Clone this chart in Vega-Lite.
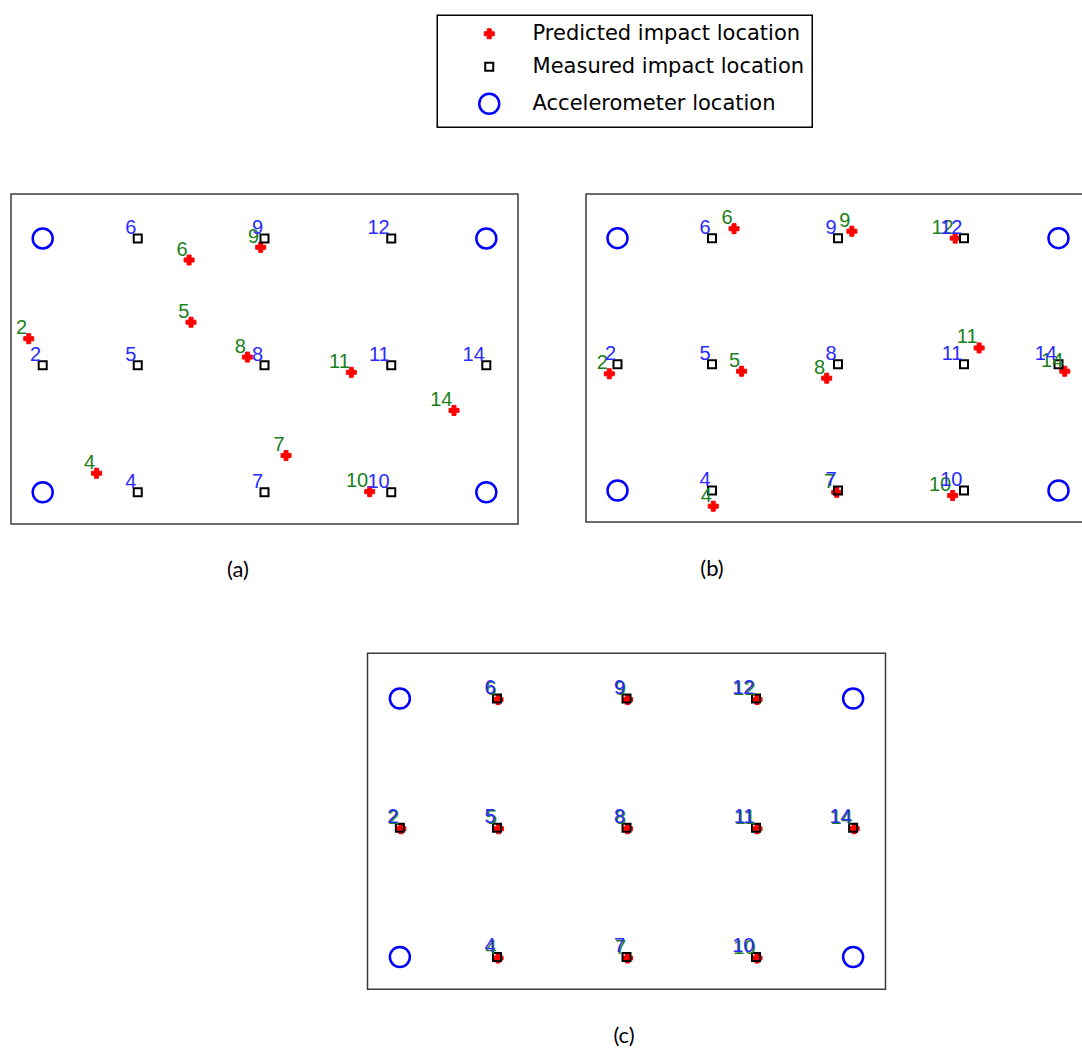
{
  "$schema": "https://vega.github.io/schema/vega-lite/v6.json",
  "padding": {"left": 10, "top": 14, "right": 0, "bottom": 0},
  "autosize": {"type": "pad"},
  "datasets": {
    "pts": [
      {"panel": "a", "type": "Accelerometer location", "id": "", "x": 2.5, "y": 2.5},
      {"panel": "a", "type": "Accelerometer location", "id": "", "x": 2.5, "y": 22.5},
      {"panel": "a", "type": "Accelerometer location", "id": "", "x": 37.5, "y": 2.5},
      {"panel": "a", "type": "Accelerometer location", "id": "", "x": 37.5, "y": 22.5},
      {"panel": "a", "type": "Predicted impact location", "id": "2", "x": 1.4, "y": 14.6},
      {"panel": "a", "type": "Predicted impact location", "id": "4", "x": 6.75, "y": 4.0},
      {"panel": "a", "type": "Predicted impact location", "id": "5", "x": 14.2, "y": 15.9},
      {"panel": "a", "type": "Predicted impact location", "id": "6", "x": 14.05, "y": 20.8},
      {"panel": "a", "type": "Predicted impact location", "id": "7", "x": 21.7, "y": 5.4},
      {"panel": "a", "type": "Predicted impact location", "id": "8", "x": 18.65, "y": 13.15},
      {"panel": "a", "type": "Predicted impact location", "id": "9", "x": 19.7, "y": 21.8},
      {"panel": "a", "type": "Predicted impact location", "id": "10", "x": 28.3, "y": 2.55},
      {"panel": "a", "type": "Predicted impact location", "id": "11", "x": 26.85, "y": 11.95},
      {"panel": "a", "type": "Predicted impact location", "id": "14", "x": 34.95, "y": 8.95},
      {"panel": "a", "type": "Measured impact location", "id": "2", "x": 2.5, "y": 12.5},
      {"panel": "a", "type": "Measured impact location", "id": "4", "x": 10, "y": 2.5},
      {"panel": "a", "type": "Measured impact location", "id": "5", "x": 10, "y": 12.5},
      {"panel": "a", "type": "Measured impact location", "id": "6", "x": 10, "y": 22.5},
      {"panel": "a", "type": "Measured impact location", "id": "7", "x": 20, "y": 2.5},
      {"panel": "a", "type": "Measured impact location", "id": "8", "x": 20, "y": 12.5},
      {"panel": "a", "type": "Measured impact location", "id": "9", "x": 20, "y": 22.5},
      {"panel": "a", "type": "Measured impact location", "id": "10", "x": 30, "y": 2.5},
      {"panel": "a", "type": "Measured impact location", "id": "11", "x": 30, "y": 12.5},
      {"panel": "a", "type": "Measured impact location", "id": "12", "x": 30, "y": 22.5},
      {"panel": "a", "type": "Measured impact location", "id": "14", "x": 37.5, "y": 12.5},

      {"panel": "b", "type": "Accelerometer location", "id": "", "x": 2.5, "y": 2.5},
      {"panel": "b", "type": "Accelerometer location", "id": "", "x": 2.5, "y": 22.5},
      {"panel": "b", "type": "Accelerometer location", "id": "", "x": 37.5, "y": 2.5},
      {"panel": "b", "type": "Accelerometer location", "id": "", "x": 37.5, "y": 22.5},
      {"panel": "b", "type": "Predicted impact location", "id": "2", "x": 1.85, "y": 11.75},
      {"panel": "b", "type": "Predicted impact location", "id": "4", "x": 10.1, "y": 1.25},
      {"panel": "b", "type": "Predicted impact location", "id": "5", "x": 12.35, "y": 11.95},
      {"panel": "b", "type": "Predicted impact location", "id": "6", "x": 11.75, "y": 23.25},
      {"panel": "b", "type": "Predicted impact location", "id": "7", "x": 19.9, "y": 2.35},
      {"panel": "b", "type": "Predicted impact location", "id": "8", "x": 19.1, "y": 11.4},
      {"panel": "b", "type": "Predicted impact location", "id": "9", "x": 21.1, "y": 23.05},
      {"panel": "b", "type": "Predicted impact location", "id": "10", "x": 29.1, "y": 2.1},
      {"panel": "b", "type": "Predicted impact location", "id": "11", "x": 31.2, "y": 13.8},
      {"panel": "b", "type": "Predicted impact location", "id": "12", "x": 29.3, "y": 22.5},
      {"panel": "b", "type": "Predicted impact location", "id": "14", "x": 38.0, "y": 11.95},
      {"panel": "b", "type": "Measured impact location", "id": "2", "x": 2.5, "y": 12.5},
      {"panel": "b", "type": "Measured impact location", "id": "4", "x": 10, "y": 2.5},
      {"panel": "b", "type": "Measured impact location", "id": "5", "x": 10, "y": 12.5},
      {"panel": "b", "type": "Measured impact location", "id": "6", "x": 10, "y": 22.5},
      {"panel": "b", "type": "Measured impact location", "id": "7", "x": 20, "y": 2.5},
      {"panel": "b", "type": "Measured impact location", "id": "8", "x": 20, "y": 12.5},
      {"panel": "b", "type": "Measured impact location", "id": "9", "x": 20, "y": 22.5},
      {"panel": "b", "type": "Measured impact location", "id": "10", "x": 30, "y": 2.5},
      {"panel": "b", "type": "Measured impact location", "id": "11", "x": 30, "y": 12.5},
      {"panel": "b", "type": "Measured impact location", "id": "12", "x": 30, "y": 22.5},
      {"panel": "b", "type": "Measured impact location", "id": "14", "x": 37.5, "y": 12.5},

      {"panel": "c", "type": "Accelerometer location", "id": "", "x": 2.5, "y": 2.5},
      {"panel": "c", "type": "Accelerometer location", "id": "", "x": 2.5, "y": 22.5},
      {"panel": "c", "type": "Accelerometer location", "id": "", "x": 37.5, "y": 2.5},
      {"panel": "c", "type": "Accelerometer location", "id": "", "x": 37.5, "y": 22.5},
      {"panel": "c", "type": "Predicted impact location", "id": "2", "x": 2.58, "y": 12.42},
      {"panel": "c", "type": "Predicted impact location", "id": "4", "x": 10.08, "y": 2.42},
      {"panel": "c", "type": "Predicted impact location", "id": "5", "x": 10.12, "y": 12.42},
      {"panel": "c", "type": "Predicted impact location", "id": "6", "x": 10.08, "y": 22.42},
      {"panel": "c", "type": "Predicted impact location", "id": "7", "x": 20.08, "y": 2.42},
      {"panel": "c", "type": "Predicted impact location", "id": "8", "x": 20.08, "y": 12.42},
      {"panel": "c", "type": "Predicted impact location", "id": "9", "x": 20.08, "y": 22.42},
      {"panel": "c", "type": "Predicted impact location", "id": "10", "x": 30.08, "y": 2.42},
      {"panel": "c", "type": "Predicted impact location", "id": "11", "x": 30.08, "y": 12.42},
      {"panel": "c", "type": "Predicted impact location", "id": "12", "x": 30.08, "y": 22.42},
      {"panel": "c", "type": "Predicted impact location", "id": "14", "x": 37.58, "y": 12.42},
      {"panel": "c", "type": "Measured impact location", "id": "2", "x": 2.5, "y": 12.5},
      {"panel": "c", "type": "Measured impact location", "id": "4", "x": 10, "y": 2.5},
      {"panel": "c", "type": "Measured impact location", "id": "5", "x": 10, "y": 12.5},
      {"panel": "c", "type": "Measured impact location", "id": "6", "x": 10, "y": 22.5},
      {"panel": "c", "type": "Measured impact location", "id": "7", "x": 20, "y": 2.5},
      {"panel": "c", "type": "Measured impact location", "id": "8", "x": 20, "y": 12.5},
      {"panel": "c", "type": "Measured impact location", "id": "9", "x": 20, "y": 22.5},
      {"panel": "c", "type": "Measured impact location", "id": "10", "x": 30, "y": 2.5},
      {"panel": "c", "type": "Measured impact location", "id": "11", "x": 30, "y": 12.5},
      {"panel": "c", "type": "Measured impact location", "id": "12", "x": 30, "y": 22.5},
      {"panel": "c", "type": "Measured impact location", "id": "14", "x": 37.5, "y": 12.5}
    ]
  },
  "spacing": 71.3,
  "bounds": "full",
  "vconcat": [
    {
      "spacing": 68,
      "bounds": "flush",
      "hconcat": [
        {
          "width": 507, "height": 330,
          "data": {"name": "pts"},
          "transform": [{"filter": "datum.panel === 'a'"}],
          "encoding": {
            "x": {"field": "x", "type": "quantitative", "scale": {"domain": [0, 40], "nice": false, "zero": false},
                  "axis": {"title": "(a)", "titleX": 226.5, "titleY": 45, "domain": false, "ticks": false, "labels": false, "grid": false}},
            "y": {"field": "y", "type": "quantitative", "scale": {"domain": [0, 26], "nice": false, "zero": false}, "axis": null}
          },
          "layer": [
            {
              "mark": {"type": "point", "filled": true, "opacity": 1},
              "encoding": {
                "shape": {"field": "type", "type": "nominal", "scale": {"domain": ["Predicted impact location", "Measured impact location", "Accelerometer location"], "range": ["cross", "square", "circle"]}},
                "fill": {"field": "type", "type": "nominal", "scale": {"domain": ["Predicted impact location", "Measured impact location", "Accelerometer location"], "range": ["#ff0000", "transparent", "transparent"]}},
                "stroke": {"field": "type", "type": "nominal", "scale": {"domain": ["Predicted impact location", "Measured impact location", "Accelerometer location"], "range": ["#ff0000", "#000000", "#0000ff"]}},
                "size": {"field": "type", "type": "nominal", "scale": {"type": "ordinal", "domain": ["Predicted impact location", "Measured impact location", "Accelerometer location"], "range": [100, 64, 400]}},
                "strokeWidth": {"field": "type", "type": "nominal", "scale": {"type": "ordinal", "domain": ["Predicted impact location", "Measured impact location", "Accelerometer location"], "range": [1, 2, 2.5]}}
              }
            },
            {
              "transform": [{"filter": "datum.type === 'Predicted impact location'"}],
              "mark": {"type": "text", "align": "right", "baseline": "alphabetic", "dx": -1.5, "dy": -4.5, "font": "Liberation Sans", "fontSize": 20, "color": "#1a801a"},
              "encoding": {"text": {"field": "id", "type": "nominal"}}
            },
            {
              "transform": [{"filter": "datum.type === 'Measured impact location'"}],
              "mark": {"type": "text", "align": "right", "baseline": "alphabetic", "dx": -1.5, "dy": -4.5, "font": "Liberation Sans", "fontSize": 20, "color": "#2a2aff"},
              "encoding": {"text": {"field": "id", "type": "nominal"}}
            }
          ]
        },
        {
          "width": 504, "height": 328,
          "data": {"name": "pts"},
          "transform": [{"filter": "datum.panel === 'b'"}],
          "encoding": {
            "x": {"field": "x", "type": "quantitative", "scale": {"domain": [0, 40], "nice": false, "zero": false},
                  "axis": {"title": "(b)", "titleX": 125.5, "titleY": 46, "domain": false, "ticks": false, "labels": false, "grid": false}},
            "y": {"field": "y", "type": "quantitative", "scale": {"domain": [0, 26], "nice": false, "zero": false}, "axis": null}
          },
          "layer": [
            {
              "mark": {"type": "point", "filled": true, "opacity": 1},
              "encoding": {
                "shape": {"field": "type", "type": "nominal", "scale": {"domain": ["Predicted impact location", "Measured impact location", "Accelerometer location"], "range": ["cross", "square", "circle"]}},
                "fill": {"field": "type", "type": "nominal", "scale": {"domain": ["Predicted impact location", "Measured impact location", "Accelerometer location"], "range": ["#ff0000", "transparent", "transparent"]}},
                "stroke": {"field": "type", "type": "nominal", "scale": {"domain": ["Predicted impact location", "Measured impact location", "Accelerometer location"], "range": ["#ff0000", "#000000", "#0000ff"]}},
                "size": {"field": "type", "type": "nominal", "scale": {"type": "ordinal", "domain": ["Predicted impact location", "Measured impact location", "Accelerometer location"], "range": [100, 64, 400]}},
                "strokeWidth": {"field": "type", "type": "nominal", "scale": {"type": "ordinal", "domain": ["Predicted impact location", "Measured impact location", "Accelerometer location"], "range": [1, 2, 2.5]}}
              }
            },
            {
              "transform": [{"filter": "datum.type === 'Predicted impact location'"}],
              "mark": {"type": "text", "align": "right", "baseline": "alphabetic", "dx": -1.5, "dy": -4.5, "font": "Liberation Sans", "fontSize": 20, "color": "#1a801a"},
              "encoding": {"text": {"field": "id", "type": "nominal"}}
            },
            {
              "transform": [{"filter": "datum.type === 'Measured impact location'"}],
              "mark": {"type": "text", "align": "right", "baseline": "alphabetic", "dx": -1.5, "dy": -4.5, "font": "Liberation Sans", "fontSize": 20, "color": "#2a2aff"},
              "encoding": {"text": {"field": "id", "type": "nominal"}}
            }
          ]
        }
      ]
    },
    {
      "spacing": 56.5,
      "bounds": "flush",
      "hconcat": [
        {
          "width": 300, "height": 336,
          "data": {"values": []},
          "mark": "point",
          "view": {"stroke": null}
        },
        {
          "width": 518, "height": 336,
          "data": {"name": "pts"},
          "transform": [{"filter": "datum.panel === 'c'"}],
          "encoding": {
            "x": {"field": "x", "type": "quantitative", "scale": {"domain": [0, 40], "nice": false, "zero": false},
                  "axis": {"title": "(c)", "titleX": 256, "titleY": 46, "domain": false, "ticks": false, "labels": false, "grid": false}},
            "y": {"field": "y", "type": "quantitative", "scale": {"domain": [0, 26], "nice": false, "zero": false}, "axis": null}
          },
          "layer": [
            {
              "mark": {"type": "point", "filled": true, "opacity": 1},
              "encoding": {
                "shape": {"field": "type", "type": "nominal", "scale": {"domain": ["Predicted impact location", "Measured impact location", "Accelerometer location"], "range": ["cross", "square", "circle"]}},
                "fill": {"field": "type", "type": "nominal", "scale": {"domain": ["Predicted impact location", "Measured impact location", "Accelerometer location"], "range": ["#ff0000", "transparent", "transparent"]}},
                "stroke": {"field": "type", "type": "nominal", "scale": {"domain": ["Predicted impact location", "Measured impact location", "Accelerometer location"], "range": ["#ff0000", "#000000", "#0000ff"]}},
                "size": {"field": "type", "type": "nominal", "scale": {"type": "ordinal", "domain": ["Predicted impact location", "Measured impact location", "Accelerometer location"], "range": [100, 64, 400]}},
                "strokeWidth": {"field": "type", "type": "nominal", "scale": {"type": "ordinal", "domain": ["Predicted impact location", "Measured impact location", "Accelerometer location"], "range": [1, 2, 2.5]}}
              }
            },
            {
              "transform": [{"filter": "datum.type === 'Predicted impact location'"}],
              "mark": {"type": "text", "align": "right", "baseline": "alphabetic", "dx": -1.5, "dy": -4.5, "font": "Liberation Sans", "fontSize": 20, "color": "#1a801a"},
              "encoding": {"text": {"field": "id", "type": "nominal"}}
            },
            {
              "transform": [{"filter": "datum.type === 'Measured impact location'"}],
              "mark": {"type": "text", "align": "right", "baseline": "alphabetic", "dx": -1.5, "dy": -4.5, "font": "Liberation Sans", "fontSize": 20, "color": "#2a2aff"},
              "encoding": {"text": {"field": "id", "type": "nominal"}}
            }
          ]
        }
      ]
    }
  ],
  "config": {
    "view": {"stroke": "#3c3c3c", "strokeWidth": 1.5},
    "axis": {"titleFont": "Lato", "titleFontSize": 22, "titleFontWeight": "normal", "titleColor": "#000000", "titleBaseline": "middle", "titleAlign": "center"},
    "legend": {
      "orient": "none",
      "legendX": 426.25,
      "legendY": -178.75,
      "title": null,
      "padding": 8,
      "strokeColor": "#000000",
      "strokeWidth": 1.5,
      "fillColor": "#ffffff",
      "labelFont": "DejaVu Sans",
      "labelFontSize": 21,
      "labelColor": "#000000",
      "labelLimit": 400,
      "symbolOffset": 32.5,
      "labelOffset": 31.8,
      "rowPadding": 11
    }
  }
}
